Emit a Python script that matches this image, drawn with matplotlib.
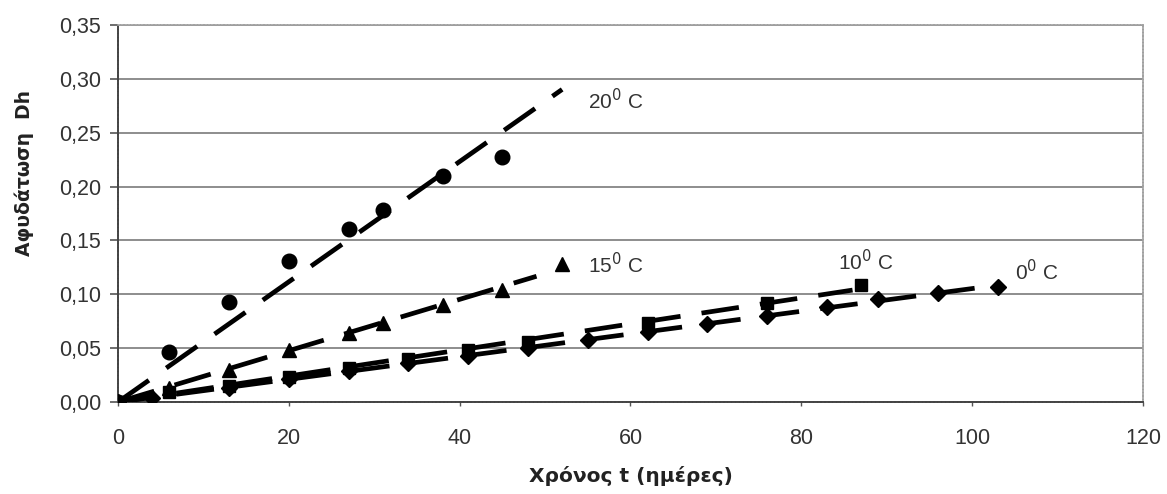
import numpy as np
import matplotlib
matplotlib.use("Agg")
import matplotlib.pyplot as plt
from matplotlib.ticker import FuncFormatter

# Dehydration Dh versus time t (days) at four storage temperatures
t_20 = [0, 6, 13, 20, 27, 31, 38, 45]
dh_20 = [0.0, 0.046, 0.093, 0.131, 0.161, 0.178, 0.210, 0.227]

t_15 = [0, 6, 13, 20, 27, 31, 38, 45, 52]
dh_15 = [0.0, 0.013, 0.030, 0.048, 0.064, 0.073, 0.090, 0.104, 0.128]

t_10 = [0, 6, 13, 20, 27, 34, 41, 48, 62, 76, 87]
dh_10 = [0.0, 0.009, 0.015, 0.023, 0.032, 0.040, 0.048, 0.056, 0.073, 0.092, 0.109]

t_0 = [0, 4, 13, 20, 27, 34, 41, 48, 55, 62, 69, 76, 83, 89, 96, 103]
dh_0 = [0.0, 0.004, 0.013, 0.021, 0.029, 0.036, 0.043, 0.050, 0.058, 0.065,
        0.072, 0.080, 0.088, 0.096, 0.101, 0.107]

# extent of each linear trend line (days)
trend_end = {"20": 52, "15": 49, "10": 86, "0": 103}

labels = ["20$^0$ C", "15$^0$ C", "10$^0$ C", "0$^0$ C"]
label_pos = [(55.0, 0.280), (55.0, 0.128), (84.3, 0.130), (105.0, 0.121)]

x_ticks = [0, 20, 40, 60, 80, 100, 120]
y_ticks = [0.00, 0.05, 0.10, 0.15, 0.20, 0.25, 0.30, 0.35]

fig = plt.figure(figsize=(11.67, 4.94), dpi=100)
ax = fig.add_axes([0.1011, 0.1862, 0.8783, 0.7632])

series = [
    ("20", t_20, dh_20, "o", 10.5),
    ("15", t_15, dh_15, "^", 10.0),
    ("10", t_10, dh_10, "s", 9.0),
    ("0", t_0, dh_0, "D", 8.0),
]

for key, t, dh, mk, ms in series:
    t = np.asarray(t, float)
    dh = np.asarray(dh, float)
    # least-squares line through the origin
    slope = np.sum(t * dh) / np.sum(t * t)
    tt = np.array([0.0, trend_end[key]])
    ax.plot(tt, slope * tt, color="black", lw=3.4,
            dashes=(8.0, 4.5), dash_capstyle="butt", zorder=3)
    ax.plot(t, dh, linestyle="none", marker=mk, markersize=ms,
            color="black", zorder=4)

txt_font = dict(family=["Liberation Sans", "DejaVu Sans"], fontsize=15,
                color="#333333", va="center", ha="left")
for lab, (x, y) in zip(labels, label_pos):
    ax.text(x, y, lab, **txt_font)

ax.set_xlim(0, 120)
ax.set_ylim(0, 0.35)
ax.set_xticks(x_ticks)
ax.set_yticks(y_ticks)
ax.yaxis.set_major_formatter(FuncFormatter(lambda v, p: f"{v:.2f}".replace(".", ",")))
ax.xaxis.set_major_formatter(FuncFormatter(lambda v, p: f"{v:.0f}"))

ax.grid(axis="y", color="#7a7a7a", lw=1.2, zorder=1)
ax.set_axisbelow(True)

for side in ["left", "bottom"]:
    ax.spines[side].set_color("#444444")
    ax.spines[side].set_linestyle((0, (1.2, 0.8)))
    ax.spines[side].set_linewidth(1.4)
for side in ["top", "right"]:
    ax.spines[side].set_color("#a0a0a0")
    ax.spines[side].set_linestyle((0, (1.2, 0.8)))
    ax.spines[side].set_linewidth(1.2)

ax.tick_params(axis="y", direction="out", length=6, width=1.2, color="#555555",
               labelsize=15.5, labelcolor="#333333", pad=6)
ax.tick_params(axis="x", direction="out", length=3, width=1.0, color="#555555",
               labelsize=15.5, labelcolor="#333333", pad=16)
for lbl in ax.get_xticklabels() + ax.get_yticklabels():
    lbl.set_family(["Liberation Sans", "DejaVu Sans"])

ax.set_xlabel("Χρόνος t (ημέρες)", family=["DejaVu Sans"],
              fontweight="bold", fontsize=14.5, color="#222222", labelpad=12)
fig.text(0.021, 0.65, "Αφυδάτωση  Dh", rotation=90, ha="center", va="center",
         family=["DejaVu Sans"], fontweight="bold",
         fontsize=13.5, color="#222222")

fig.savefig("out.png", dpi=100, facecolor="white")
